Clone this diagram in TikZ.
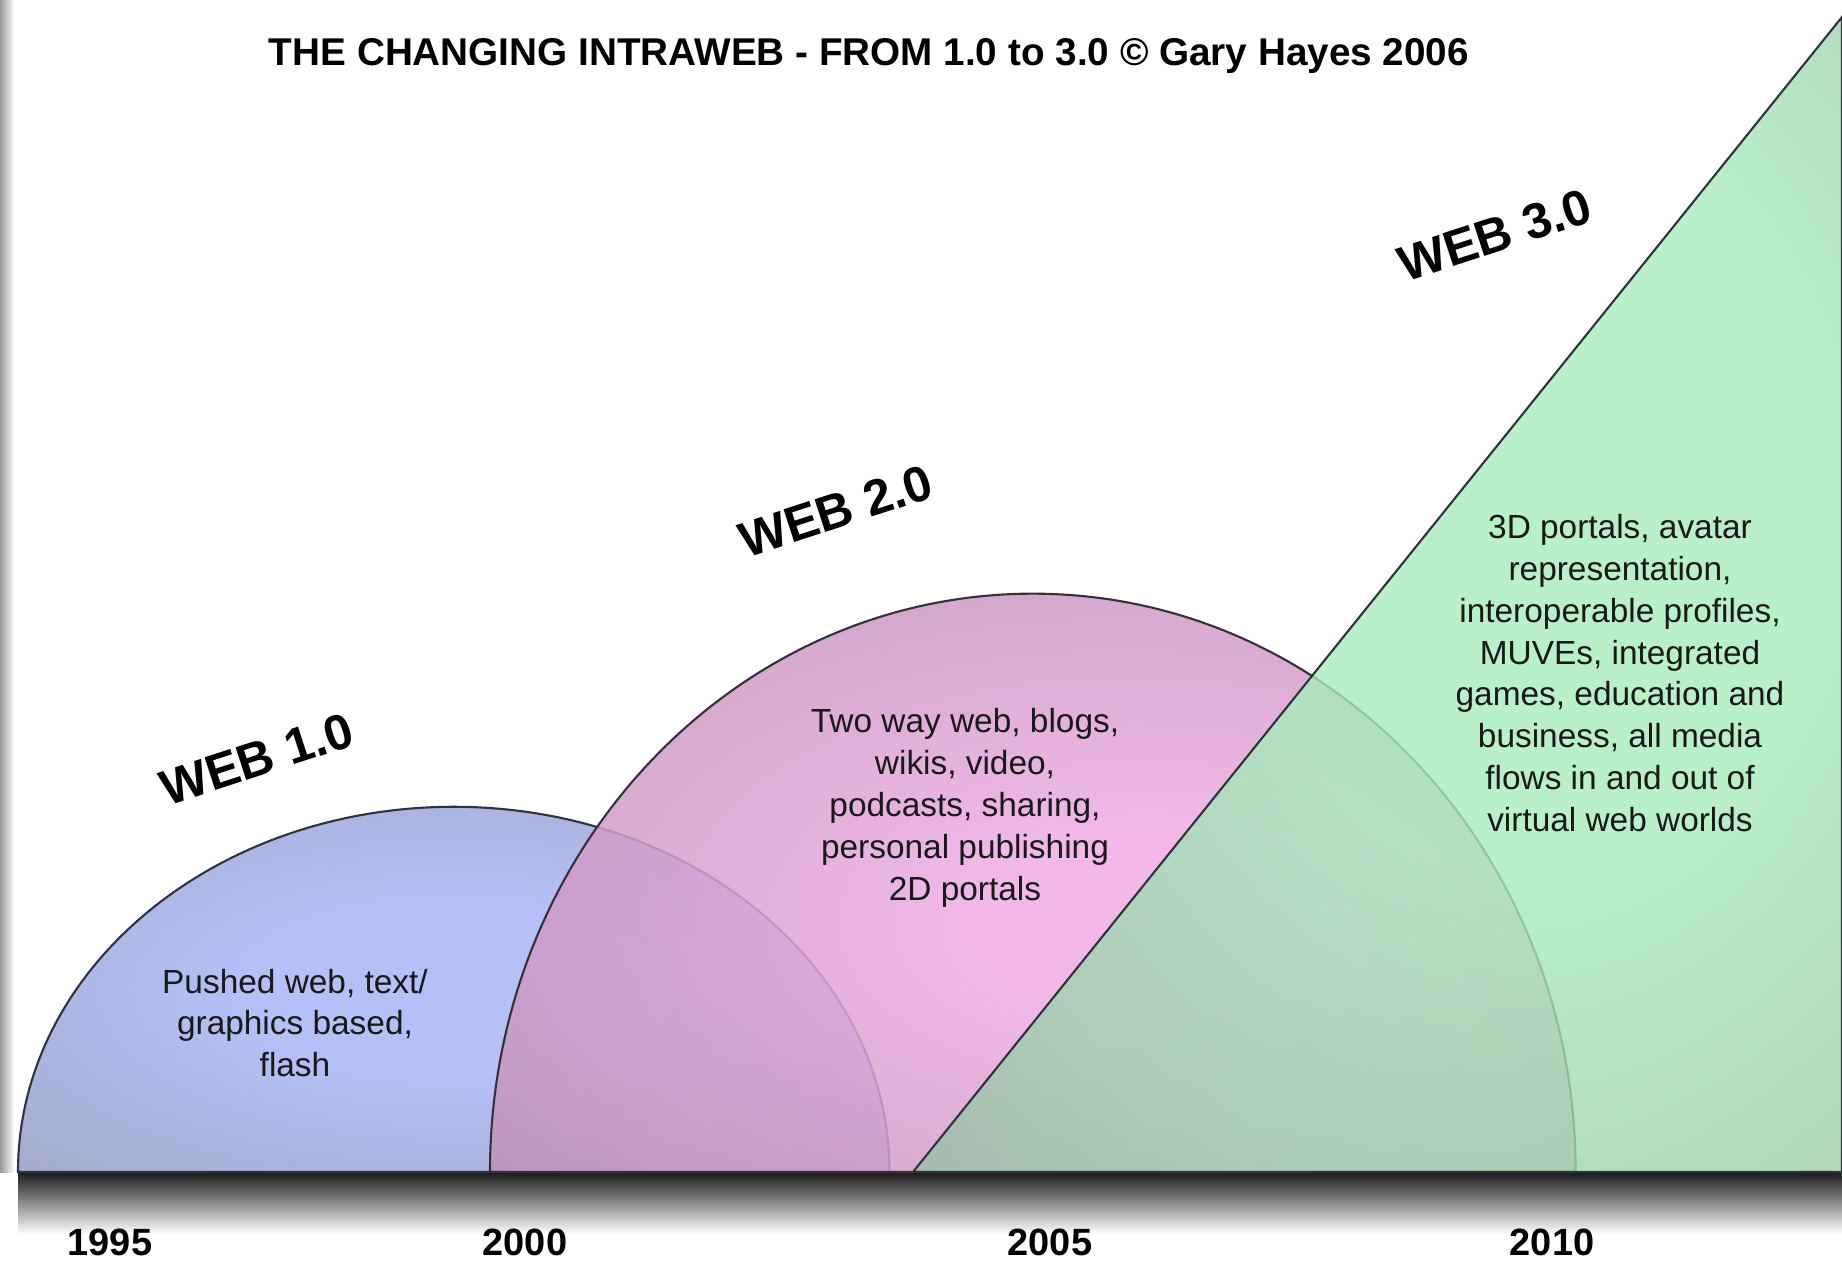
\documentclass[tikz,border=0pt]{standalone}
\usepackage{fontspec}
\setmainfont{Liberation Sans}
\usepackage{xcolor}
\usetikzlibrary{calc, positioning}

\definecolor{webblue}{RGB}{180,192,246}
\definecolor{webbluegray}{RGB}{152,156,174}
\definecolor{webpink}{RGB}{238,172,228}
\definecolor{webpinkgray}{RGB}{176,136,164}
\definecolor{webgreen}{RGB}{168,236,188}
\definecolor{webgreengray}{RGB}{144,168,152}
\definecolor{edgegray}{RGB}{50,50,62}

\pgfdeclareradialshading{blueglow}{\pgfpoint{0bp}{0bp}}{color(0bp)=(webblue); color(12bp)=(webblue); color(52bp)=(webbluegray); color(80bp)=(webbluegray)}
\pgfdeclareradialshading{pinkglow}{\pgfpoint{6bp}{-4bp}}{color(0bp)=(webpink); color(8bp)=(webpink); color(46bp)=(webpinkgray); color(80bp)=(webpinkgray)}
\pgfdeclareradialshading{greenglow}{\pgfpoint{10bp}{5bp}}{color(0bp)=(webgreen); color(16bp)=(webgreen); color(54bp)=(webgreengray); color(80bp)=(webgreengray)}

\begin{document}
\begin{tikzpicture}[x=0.01cm, y=0.01cm,
        EDGE/.style = {draw=edgegray, line width=0.6pt},
        TT/.style = {anchor=base, font=\fontsize{11}{13}\selectfont\bfseries},
        WL/.style = {rotate=18, font=\fontsize{14.2}{17}\selectfont\bfseries},
        DT/.style = {align=center, text=black!90, font=\fontsize{9.5}{11.9}\selectfont},
        YR/.style = {anchor=base, font=\fontsize{10.8}{13}\selectfont\bfseries} ]

\useasboundingbox (0,0) rectangle (1842,1260);

% slide edge and shadow under the time line
\shade[left color=black!40, right color=white] (0,88) rectangle (14,1260);
\shade[top color=black!90, middle color=black!28, bottom color=white] (18,26) rectangle (1842,88);

% the three eras
\shadedraw[EDGE, shading=blueglow] (18,88) arc[start angle=180, end angle=0, x radius=4.355cm, y radius=3.65cm] -- cycle;
\shadedraw[EDGE, shading=pinkglow, fill opacity=0.85] (490,88) arc[start angle=180, end angle=0, x radius=5.425cm, y radius=5.78cm] -- cycle;
\shadedraw[EDGE, shading=greenglow, fill opacity=0.8] (913,88) -- (1842,1243) -- (1842,88) -- cycle;

\node (title) [TT] at (869,1194) {THE CHANGING INTRAWEB - FROM 1.0 to 3.0 © Gary Hayes 2006};

\node (web1) [WL] at (257,501) {WEB 1.0};
\node (web2) [WL] at (836,749) {WEB 2.0};
\node (web3) [WL] at (1495,1025) {WEB 3.0};

\node (web1txt) [DT] at (295,237) {Pushed web, text/\\graphics based,\\flash};
\node (web2txt) [DT] at (965,452) {Two way web, blogs,\\wikis, video,\\podcasts, sharing,\\personal publishing\\2D portals};
\node (web3txt) [DT] at (1620,587) {3D portals, avatar\\representation,\\interoperable profiles,\\MUVEs, integrated\\games, education and\\business, all media\\flows in and out of\\virtual web worlds};

% years along the time line
\foreach \yr/\x in {1995/110, 2000/525, 2005/1050, 2010/1552}
  \node (y\yr) [YR] at (\x,5) {\yr};
\end{tikzpicture}
\end{document}
